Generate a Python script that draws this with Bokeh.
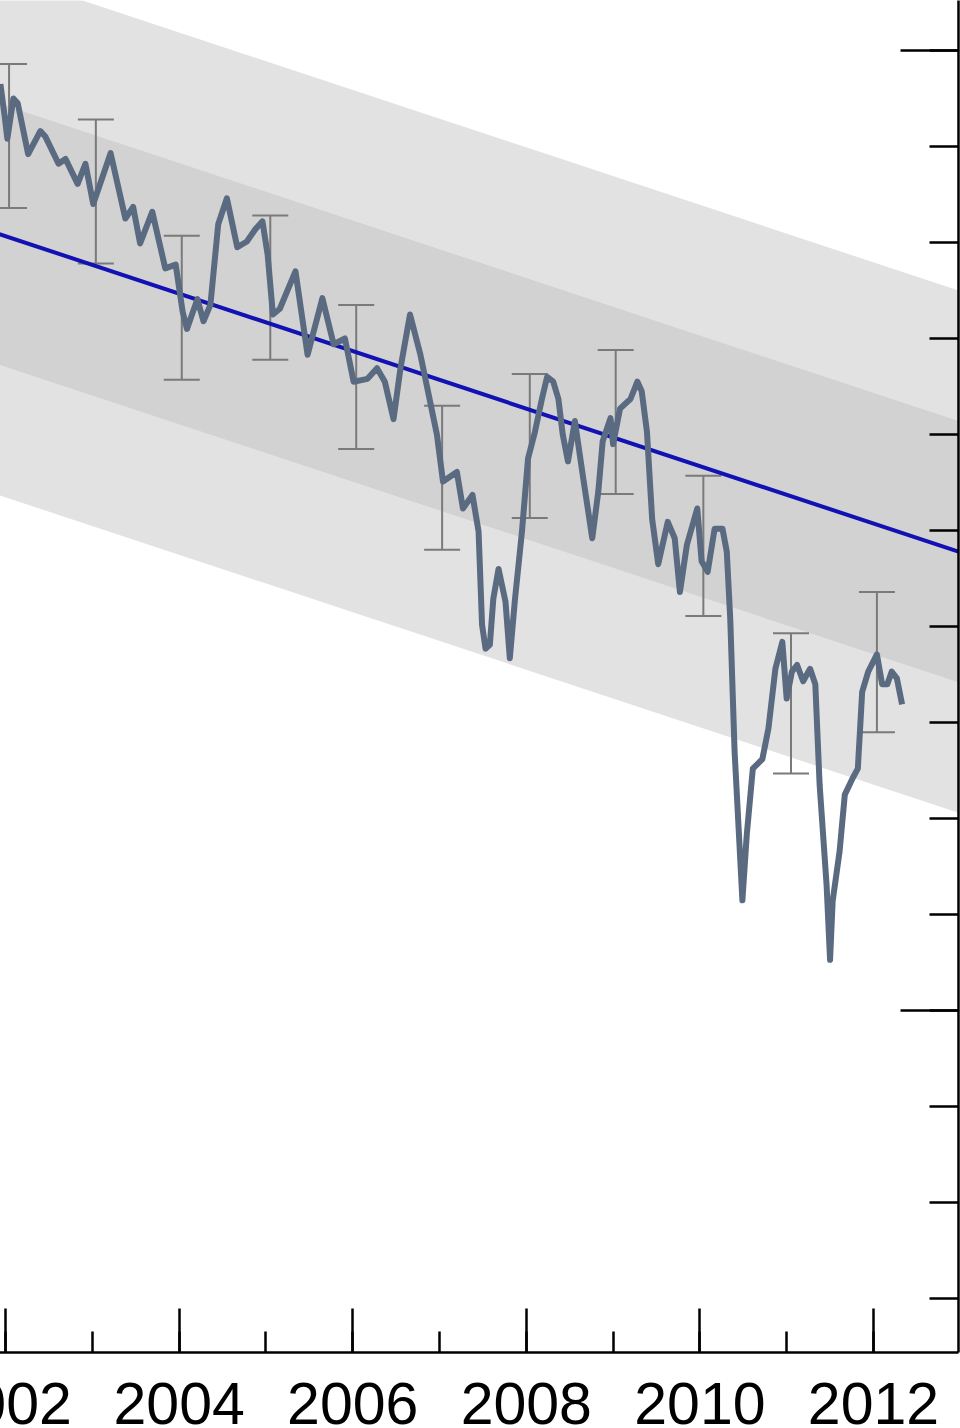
from bokeh.plotting import figure
from bokeh.models import (Range1d, LinearAxis, SingleIntervalTicker, ColumnDataSource,
                          Whisker, TeeHead)
from bokeh.embed import file_html
from bokeh.resources import INLINE

# Ice volume anomaly (1000 km^3) vs. time (decimal year)
years = [2001.94, 2001.99, 2002.02, 2002.09, 2002.14, 2002.26, 2002.40, 2002.46, 2002.61, 2002.69,
         2002.83, 2002.92, 2003.01, 2003.21, 2003.38, 2003.47, 2003.55, 2003.69, 2003.84, 2003.96,
         2004.04, 2004.09, 2004.21, 2004.28, 2004.36, 2004.45, 2004.55, 2004.67, 2004.78, 2004.88,
         2004.96, 2005.02, 2005.08, 2005.16, 2005.34, 2005.48, 2005.65, 2005.78, 2005.91, 2006.01,
         2006.17, 2006.28, 2006.37, 2006.47, 2006.55, 2006.66, 2006.78, 2006.86, 2006.97, 2007.04,
         2007.20, 2007.27, 2007.38, 2007.45, 2007.49, 2007.53, 2007.58, 2007.62, 2007.68, 2007.76,
         2007.81, 2007.87, 2007.95, 2008.02, 2008.10, 2008.18, 2008.24, 2008.31, 2008.37, 2008.42,
         2008.48, 2008.56, 2008.65, 2008.76, 2008.83, 2008.88, 2008.97, 2009.00, 2009.08, 2009.20,
         2009.28, 2009.33, 2009.39, 2009.45, 2009.52, 2009.63, 2009.71, 2009.77, 2009.85, 2009.97,
         2010.02, 2010.09, 2010.17, 2010.26, 2010.31, 2010.35, 2010.40, 2010.49, 2010.54, 2010.61,
         2010.72, 2010.79, 2010.87, 2010.95, 2011.00, 2011.06, 2011.12, 2011.19, 2011.27, 2011.33,
         2011.38, 2011.46, 2011.50, 2011.53, 2011.61, 2011.67, 2011.76, 2011.82, 2011.87, 2011.94,
         2012.04, 2012.10, 2012.16, 2012.21, 2012.27, 2012.33]
anomaly = [-0.35, -0.69, -0.92, -0.50, -0.55, -1.08, -0.84, -0.90, -1.18, -1.13,
           -1.39, -1.18, -1.60, -1.07, -1.75, -1.63, -2.01, -1.68, -2.27, -2.23,
           -2.72, -2.90, -2.59, -2.82, -2.65, -1.81, -1.54, -2.05, -1.99, -1.86,
           -1.78, -2.13, -2.75, -2.69, -2.30, -3.17, -2.58, -3.06, -3.00, -3.45,
           -3.42, -3.31, -3.45, -3.84, -3.31, -2.75, -3.17, -3.52, -4.00, -4.49,
           -4.39, -4.77, -4.63, -5.01, -5.98, -6.23, -6.19, -5.71, -5.40, -5.74,
           -6.33, -5.71, -5.01, -4.25, -3.97, -3.63, -3.40, -3.45, -3.63, -4.00,
           -4.28, -3.86, -4.42, -5.08, -4.59, -4.07, -3.83, -4.10, -3.73, -3.63,
           -3.45, -3.55, -3.97, -4.88, -5.35, -4.91, -5.08, -5.64, -5.15, -4.77,
           -5.32, -5.43, -4.98, -4.98, -5.22, -5.92, -7.30, -8.85, -8.17, -7.48,
           -7.38, -7.06, -6.44, -6.16, -6.75, -6.47, -6.40, -6.57, -6.44, -6.60,
           -7.65, -8.69, -9.47, -8.86, -8.34, -7.75, -7.58, -7.48, -6.68, -6.47,
           -6.29, -6.60, -6.60, -6.47, -6.54, -6.81]

# Yearly uncertainty bars
err_years = [2002.04, 2003.04, 2004.03, 2005.05, 2006.04, 2007.03, 2008.04, 2009.03,
             2010.04, 2011.05, 2012.04]
err_center = [-0.89, -1.47, -2.68, -2.47, -3.40, -4.45, -4.12, -3.87, -5.16, -6.80, -6.37]
err_half = [0.75, 0.75, 0.75, 0.75, 0.75, 0.75, 0.75, 0.75, 0.73, 0.73, 0.73]

# Linear trend and its standard deviation
trend_years = [2001.25, 2012.98]
trend_values = [-1.71, -5.22]
trend_sd = 1.36

X_START, X_END = 2001.25, 2012.98
Y_START, Y_END = -13.56, 0.52

p = figure(width=1020, height=1428, output_backend="svg", toolbar_location=None,
           x_range=Range1d(X_START, X_END), y_range=Range1d(Y_START, Y_END),
           x_axis_type=None, y_axis_type=None,
           min_border_left=0, min_border_top=0, min_border_right=2, min_border_bottom=76,
           margin=(0, 0, 0, -60))
p.outline_line_color = None
p.background_fill_color = "white"
p.border_fill_color = "white"

outer_lo = [v - 2 * trend_sd for v in trend_values]
outer_hi = [v + 2 * trend_sd for v in trend_values]
inner_lo = [v - trend_sd for v in trend_values]
inner_hi = [v + trend_sd for v in trend_values]
r1 = p.varea(x=trend_years, y1=outer_lo, y2=outer_hi, fill_color="#e2e2e2")
r2 = p.varea(x=trend_years, y1=inner_lo, y2=inner_hi, fill_color="#d2d2d2")
r1.level = "image"
r2.level = "image"

src = ColumnDataSource(dict(base=err_years,
                            upper=[c + e for c, e in zip(err_center, err_half)],
                            lower=[c - e for c, e in zip(err_center, err_half)]))
ecol = "#7a7a7a"
w = Whisker(source=src, base="base", upper="upper", lower="lower", dimension="height",
            line_color=ecol, line_width=2,
            upper_head=TeeHead(size=36, line_color=ecol, line_width=2),
            lower_head=TeeHead(size=36, line_color=ecol, line_width=2))
w.level = "underlay"
p.add_layout(w)

p.line(trend_years, trend_values, line_color="#1212b4", line_width=4)
p.line(years, anomaly, line_color="#5a6a80", line_width=6, line_join="round")

xaxis = LinearAxis(ticker=SingleIntervalTicker(interval=2, num_minor_ticks=2))
xaxis.axis_line_color = "black"
xaxis.axis_line_width = 2.5
xaxis.major_tick_line_color = "black"
xaxis.major_tick_line_width = 2.5
xaxis.major_tick_in = 44
xaxis.major_tick_out = 0
xaxis.minor_tick_line_color = "black"
xaxis.minor_tick_line_width = 2.5
xaxis.minor_tick_in = 21
xaxis.minor_tick_out = 0
xaxis.major_label_text_font = "Liberation Sans"
xaxis.major_label_text_font_size = "59px"
xaxis.major_label_text_color = "black"
xaxis.major_label_text_line_height = 1.0
xaxis.major_label_standoff = 30
p.add_layout(xaxis, "below")

yaxis = LinearAxis(ticker=SingleIntervalTicker(interval=10, num_minor_ticks=10))
yaxis.axis_line_color = "black"
yaxis.axis_line_width = 2.5
yaxis.major_tick_line_color = "black"
yaxis.major_tick_line_width = 2.5
yaxis.major_tick_in = 58
yaxis.major_tick_out = 0
yaxis.minor_tick_line_color = "black"
yaxis.minor_tick_line_width = 2.5
yaxis.minor_tick_in = 29
yaxis.minor_tick_out = 0
yaxis.major_label_text_color = None
yaxis.major_label_text_font_size = "1px"
yaxis.major_label_standoff = 0
p.add_layout(yaxis, "right")

open("out.html", "w").write(file_html(p, INLINE))
